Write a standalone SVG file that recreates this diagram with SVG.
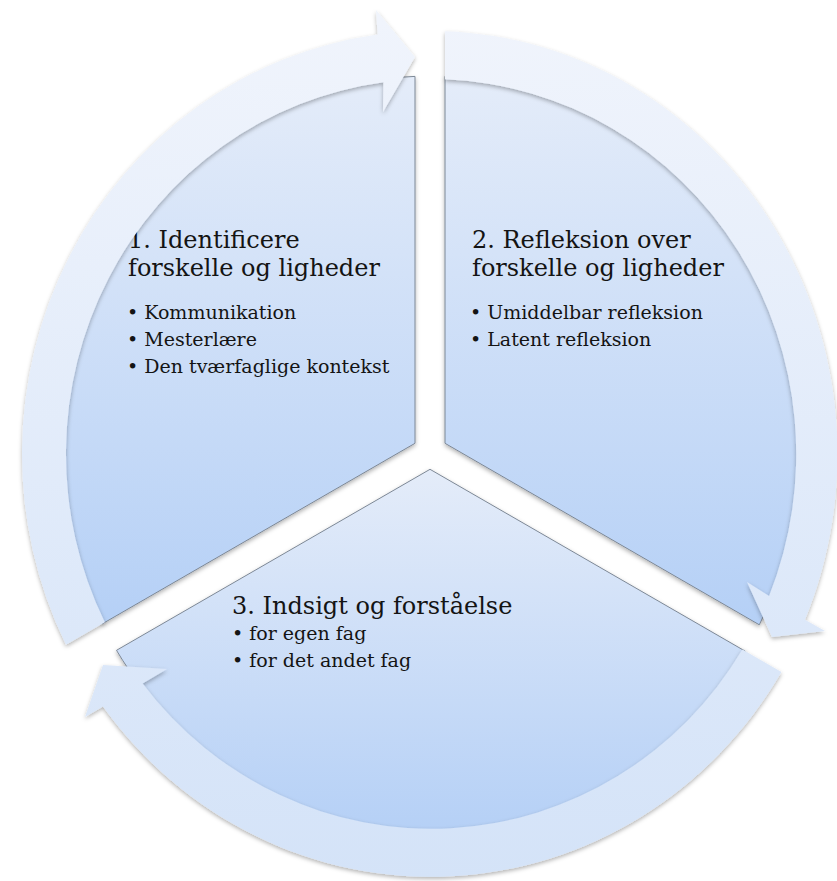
<svg xmlns="http://www.w3.org/2000/svg" width="837" height="881" viewBox="0 0 837 881">
  <defs>
    <linearGradient id="segFill" x1="0" y1="0" x2="0" y2="1">
      <stop offset="0" stop-color="#e4ecf9"/>
      <stop offset="1" stop-color="#b5d0f6"/>
    </linearGradient>
    <linearGradient id="ringFill" gradientUnits="userSpaceOnUse" x1="0" y1="20" x2="0" y2="880">
      <stop offset="0" stop-color="#f0f4fc"/>
      <stop offset="1" stop-color="#d4e3f8"/>
    </linearGradient>
    <filter id="shadow" x="-10%" y="-10%" width="120%" height="120%">
      <feDropShadow dx="0" dy="2" stdDeviation="2" flood-color="#000" flood-opacity="0.3"/>
    </filter>
  </defs>
  <style>
    .seg { fill: url(#segFill); stroke: #7d8896; stroke-width: 1; filter: url(#shadow); }
    .ring { fill: url(#ringFill); stroke: none; filter: url(#shadow); }
    .title { font-family: "DejaVu Serif", "Liberation Serif", serif; font-size: 24px; fill: #141414; }
    .item { font-family: "DejaVu Serif", "Liberation Serif", serif; font-size: 19px; fill: #141414; }
  </style>
  <rect width="837" height="881" fill="#ffffff"/>

  <g id="node-1">
    <path class="seg" d="M 415 443.3 L 415 76.4 A 368 378 0 0 0 102.2 623.9 Z"/>
    <text class="title" x="128" y="248">1. Identificere</text>
    <text class="title" x="128" y="276">forskelle og ligheder</text>
    <text class="item" x="127" y="319">• Kommunikation</text>
    <text class="item" x="127" y="346">• Mesterlære</text>
    <text class="item" x="127" y="373">• Den tværfaglige kontekst</text>
  </g>

  <g id="node-2">
    <path class="seg" d="M 445 443.3 L 445 76.3 A 368 378 0 0 1 759.3 624.8 Z"/>
    <text class="title" x="472" y="248">2. Refleksion over</text>
    <text class="title" x="472" y="276">forskelle og ligheder</text>
    <text class="item" x="470" y="319">• Umiddelbar refleksion</text>
    <text class="item" x="470" y="346">• Latent refleksion</text>
  </g>

  <g id="node-3">
    <path class="seg" d="M 430 469.3 L 745.1 651.1 A 368 378 0 0 1 116.5 650.3 Z"/>
    <text class="title" x="232" y="614">3. Indsigt og forståelse</text>
    <text class="item" x="232" y="640">• for egen fag</text>
    <text class="item" x="232" y="667">• for det andet fag</text>
  </g>

  <g id="connectors">
    <path id="arrow-1-2" class="ring" d="M 66 644.8 A 409 423 0 0 1 377.6 34.6 L 376 10 L 415 57 L 383 112 L 383.4 82.2 A 365 375 0 0 0 104.8 622.3 Z"/>
    <path id="arrow-2-3" class="ring" d="M 445 31.3 A 406 423 0 0 1 805 619.7 L 825 631 L 772 637 L 747 582 L 769.1 595.9 A 365 375 0 0 0 445 79.3 Z"/>
    <path id="arrow-3-1" class="ring" d="M 781.4 672.1 A 409 423 0 0 1 103 706.4 L 85 717 L 103 665 L 167 669 L 142.6 683.4 A 365 375 0 0 0 742.4 649.6 Z"/>
  </g>
</svg>
